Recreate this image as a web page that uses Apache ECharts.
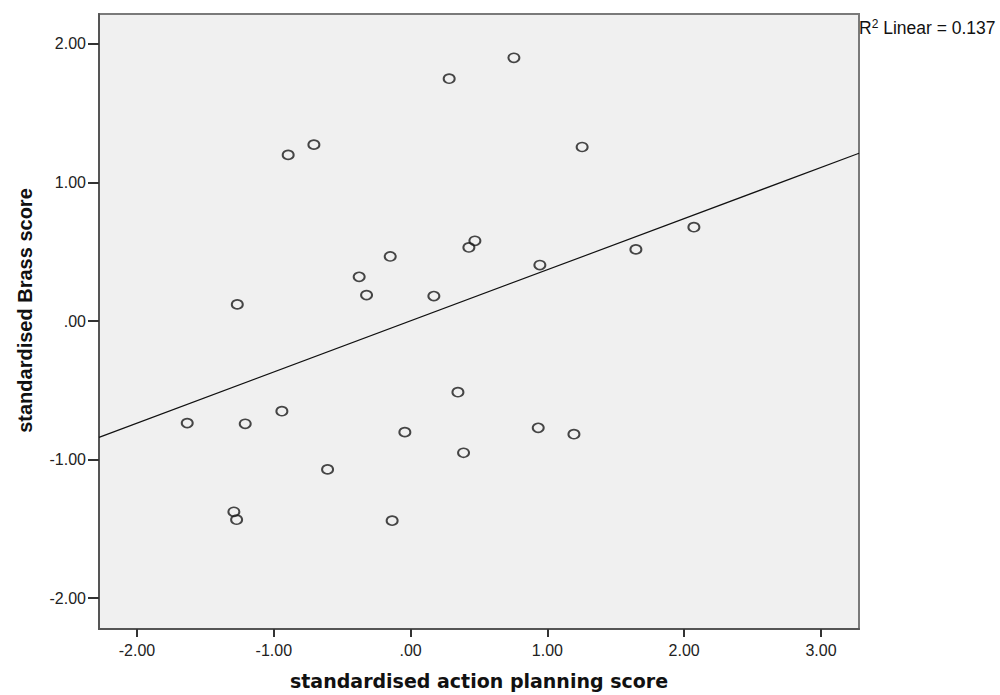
<!DOCTYPE html>
<html>
<head>
<meta charset="utf-8">
<script src="https://cdn.jsdelivr.net/npm/echarts@6/dist/echarts.min.js"></script>
<style>
html,body{margin:0;padding:0;background:#fff;}
#chart{width:1000px;height:695px;}
</style>
</head>
<body>
<div id="chart"></div>
<script>
// standardised action planning score (x) and standardised Brass score (y)
var actionPlanning = [0.282, 0.755, -0.895, -0.707, 1.254, 0.470, 0.426, -0.149, 2.071, 1.647,
  0.945, -0.376, -0.322, 0.170, -1.267, 0.346, -0.941, -1.633, -1.209, 0.933,
  -0.042, 1.194, 0.387, -0.607, -1.292, -1.272, -0.135];
var brassScore = [1.749, 1.900, 1.199, 1.273, 1.256, 0.579, 0.531, 0.466, 0.677, 0.517,
  0.404, 0.319, 0.187, 0.180, 0.120, -0.514, -0.651, -0.737, -0.742, -0.771,
  -0.802, -0.817, -0.951, -1.071, -1.377, -1.434, -1.441];
// fit line end points (R2 linear = 0.137)
var fitX = [-2.278, 3.278];
var fitY = [-0.840, 1.211];
var xTicks = [-2, -1, 0, 1, 2, 3];
var yTicks = [-2, -1, 0, 1, 2];
var xRange = [-2.278, 3.278];
var yRange = [-2.223, 2.216];
var r2Label = 'Linear = 0.137';

function fmt(v) {
  if (Math.abs(v) < 1e-9) return '.00';
  return v.toFixed(2);
}

var points = actionPlanning.map(function (x, i) { return [x, brassScore[i]]; });
var fitLine = fitX.map(function (x, i) { return [x, fitY[i]]; });

var chart = echarts.init(document.getElementById('chart'), null, {renderer: 'svg'});
chart.setOption({
  animation: false,
  backgroundColor: '#ffffff',
  title: {
    left: 859,
    top: 18,
    padding: 0,
    text: '{r|R}{sup|2}{r| ' + r2Label + '}',
    textStyle: {
      fontWeight: 'normal',
      rich: {
        r: {fontFamily: 'Liberation Sans', fontWeight: 'normal', fontSize: 17.5, color: '#111', lineHeight: 20},
        sup: {fontFamily: 'Liberation Sans', fontWeight: 'normal', fontSize: 12, color: '#111', lineHeight: 12, verticalAlign: 'top'}
      }
    }
  },
  grid: {
    left: 99, top: 14, width: 760, height: 616,
    show: true,
    backgroundColor: '#f0f0f0',
    borderColor: '#7a7a7a',
    borderWidth: 2
  },
  xAxis: {
    type: 'value',
    min: xRange[0], max: xRange[1],
    name: 'standardised action planning score',
    nameLocation: 'middle',
    nameGap: 42,
    nameTextStyle: {fontFamily: 'DejaVu Sans', fontWeight: 'bold', fontSize: 19, color: '#111'},
    axisLine: {show: true, onZero: false, lineStyle: {color: '#555', width: 2}},
    axisTick: {show: true, customValues: xTicks, length: 8, lineStyle: {color: '#333', width: 2}},
    axisLabel: {customValues: xTicks, formatter: fmt, margin: 13,
      fontFamily: 'Liberation Sans', fontSize: 16, color: '#222'},
    splitLine: {show: false}
  },
  yAxis: {
    type: 'value',
    min: yRange[0], max: yRange[1],
    name: 'standardised Brass score',
    nameLocation: 'middle',
    nameRotate: 90,
    nameGap: 64,
    nameTextStyle: {fontFamily: 'Liberation Sans', fontWeight: 'bold', fontSize: 20, color: '#111',
      padding: [0, 0, 0, 22]},
    axisLine: {show: true, onZero: false, lineStyle: {color: '#555', width: 2}},
    axisTick: {show: true, customValues: yTicks, length: 11, lineStyle: {color: '#333', width: 2}},
    axisLabel: {customValues: yTicks, formatter: fmt, margin: 13,
      fontFamily: 'Liberation Sans', fontSize: 16, color: '#222'},
    splitLine: {show: false}
  },
  series: [
    {
      type: 'line',
      data: fitLine,
      symbol: 'none',
      silent: true,
      lineStyle: {color: '#111', width: 1.2},
      z: 2
    },
    {
      type: 'scatter',
      data: points,
      symbol: 'circle',
      symbolSize: [11, 9],
      itemStyle: {color: 'rgba(240,240,240,0)', borderColor: '#1a1a1a', borderWidth: 1.8},
      z: 3
    }
  ]
});
</script>
</body>
</html>
